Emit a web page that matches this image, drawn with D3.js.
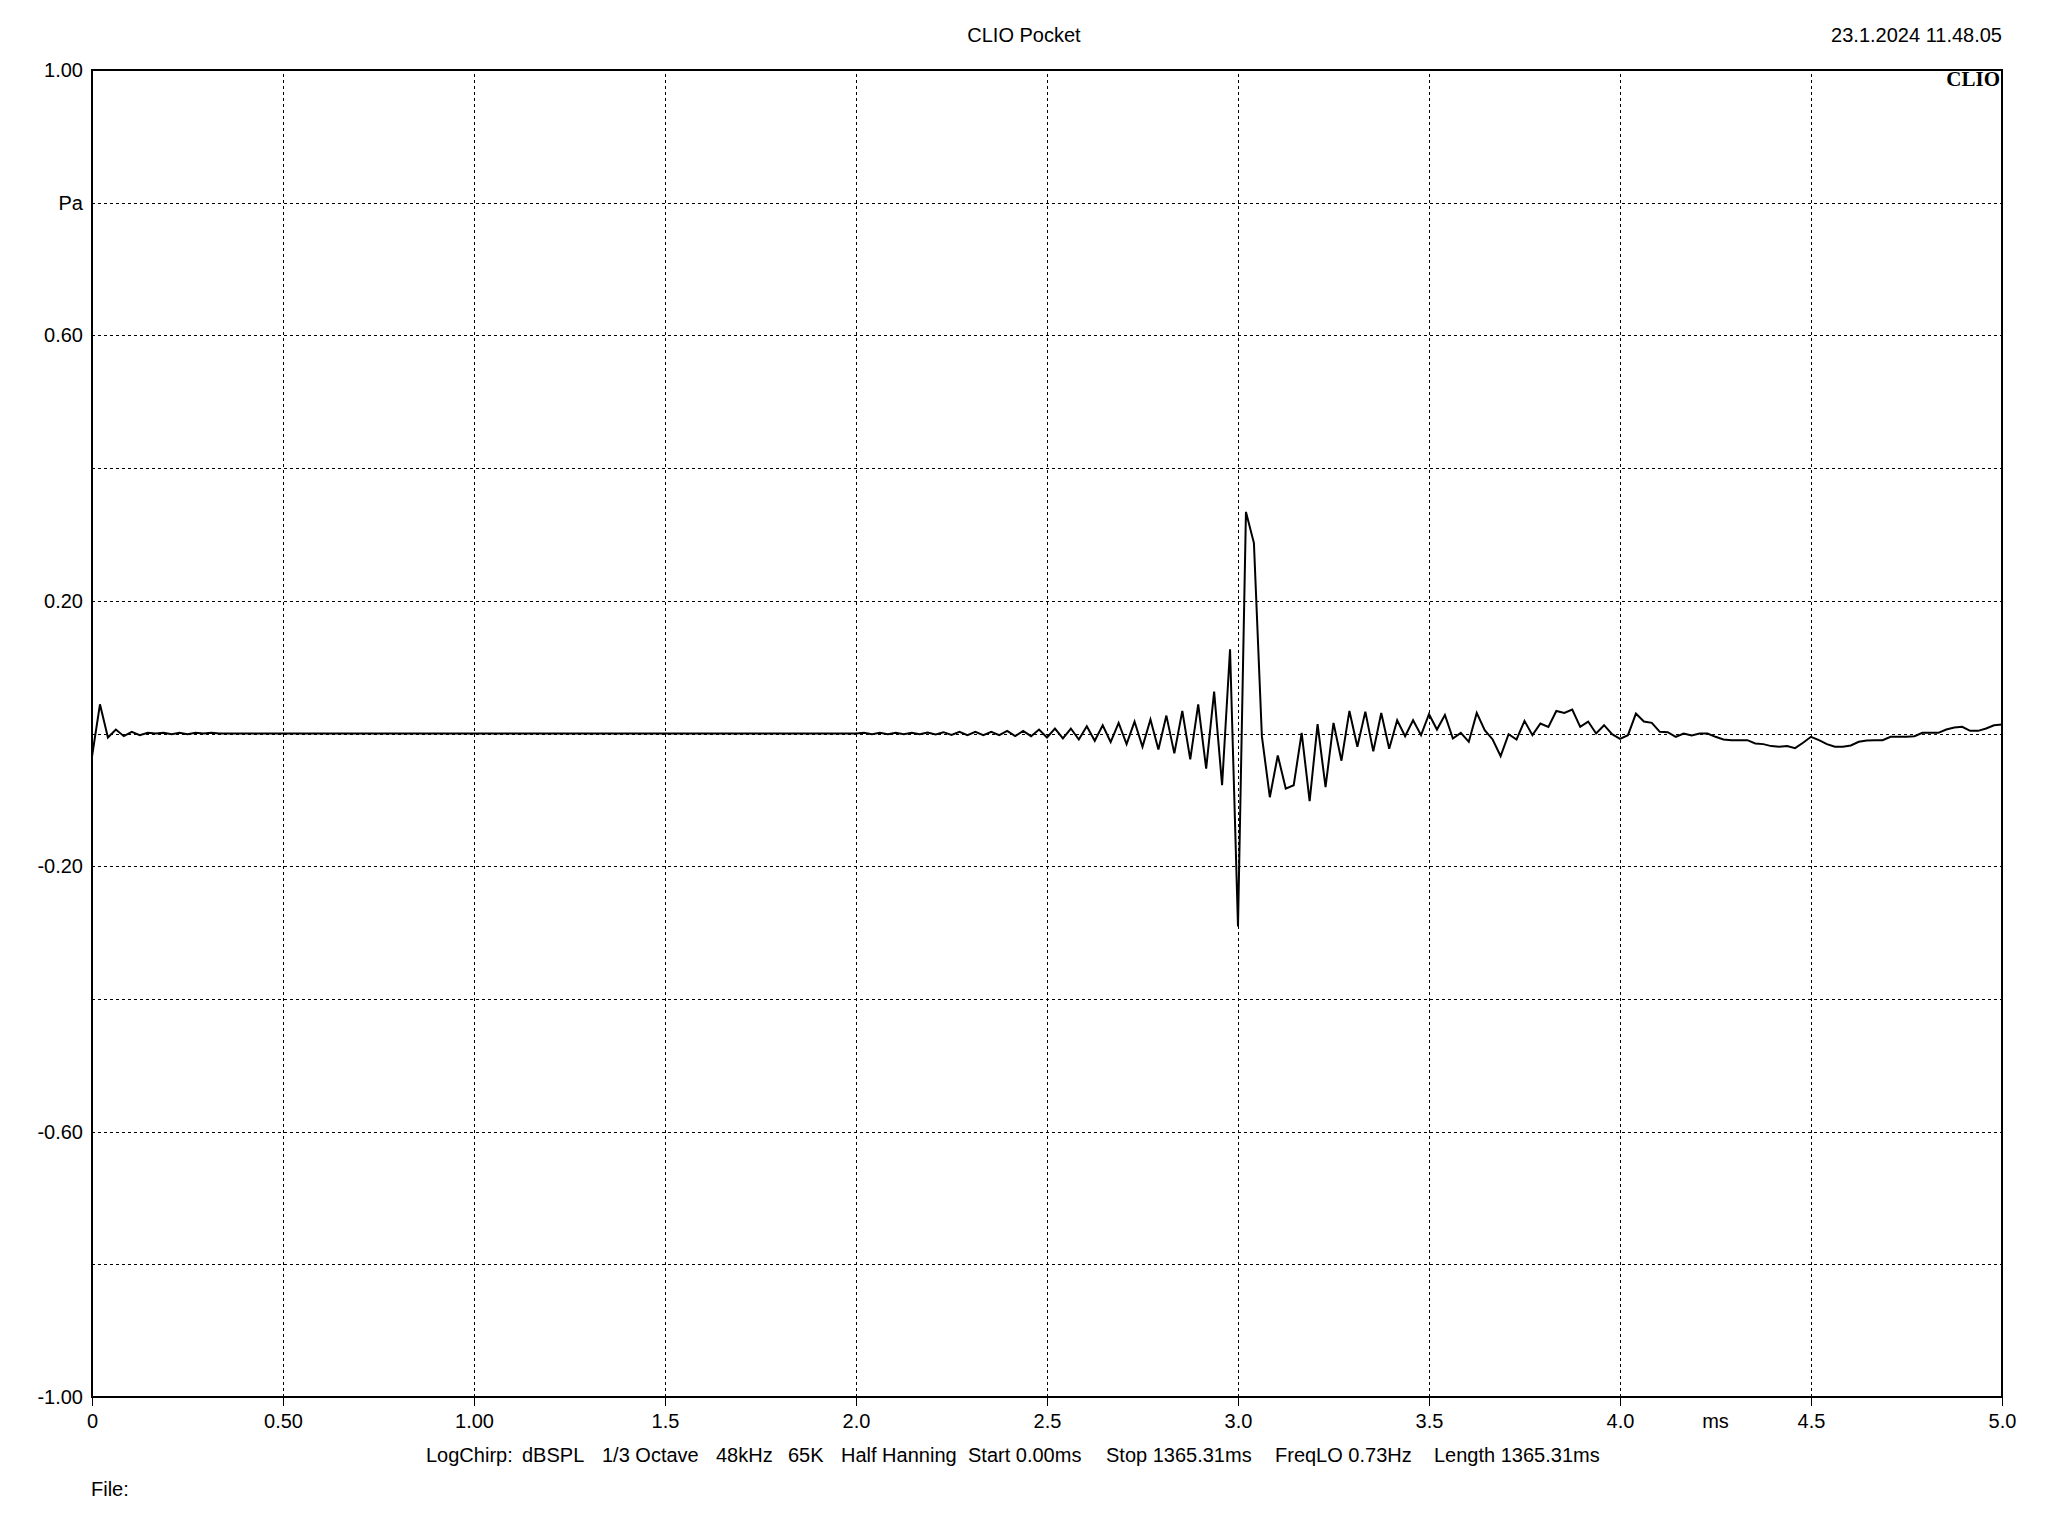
<!DOCTYPE html>
<html>
<head>
<meta charset="utf-8">
<script src="https://cdn.jsdelivr.net/npm/d3@7"></script>
<style>
  html, body { margin: 0; padding: 0; background: #fff; }
  svg { display: block; }
  text { font-family: "Liberation Sans", Arial, sans-serif; fill: #000; }
</style>
</head>
<body>
<svg id="chart" width="2048" height="1536"></svg>
<script>
// ---------------- data ----------------
const sampleRateKHz = 48;           // samples per ms
const pressure = [                  // Pa, one value per sample (0 .. 5 ms)
  -0.035, 0.044, -0.006, 0.006, -0.004, 0.0025, -0.0025, 0.001, 0, 0.001,
  -0.001, 0.001, -0.001, 0.001, 0, 0.001, 0, 0, 0, 0,
  0, 0, 0, 0, 0, 0, 0, 0, 0, 0,
  0, 0, 0, 0, 0, 0, 0, 0, 0, 0,
  0, 0, 0, 0, 0, 0, 0, 0, 0, 0,
  0, 0, 0, 0, 0, 0, 0, 0, 0, 0,
  0, 0, 0, 0, 0, 0, 0, 0, 0, 0,
  0, 0, 0, 0, 0, 0, 0, 0, 0, 0,
  0, 0, 0, 0, 0, 0, 0, 0, 0, 0,
  0, 0, 0, 0, 0, 0, 0, 0.001, -0.001, 0.001,
  -0.001, 0.001, -0.001, 0.001, -0.001, 0.0015, -0.0015, 0.002, -0.002, 0.0025,
  -0.0025, 0.0025, -0.0025, 0.0025, -0.0025, 0.004, -0.004, 0.004, -0.004, 0.006,
  -0.006, 0.0075, -0.0075, 0.0075, -0.009, 0.011, -0.011, 0.0125, -0.013, 0.016,
  -0.016, 0.018, -0.020, 0.021, -0.024, 0.027, -0.030, 0.034, -0.039, 0.044,
  -0.053, 0.063, -0.078, 0.127, -0.291, 0.334, 0.287, -0.004, -0.096, -0.033,
  -0.083, -0.078, 0.001, -0.102, 0.014, -0.081, 0.016, -0.041, 0.034, -0.020,
  0.033, -0.027, 0.031, -0.023, 0.020, -0.004, 0.020, -0.0025, 0.029, 0.006,
  0.028, -0.0075, 0.001, -0.0125, 0.031, 0.005, -0.009, -0.034, -0.001, -0.009,
  0.019, -0.0025, 0.015, 0.010, 0.034, 0.031, 0.036, 0.010, 0.018, 0.0,
  0.0125, -0.001, -0.008, -0.0025, 0.030, 0.018, 0.016, 0.0025, 0.002, -0.005,
  0, -0.003, 0, 0, -0.005, -0.009, -0.010, -0.010, -0.010, -0.015,
  -0.016, -0.019, -0.020, -0.019, -0.022, -0.014, -0.005, -0.010, -0.016, -0.020,
  -0.020, -0.018, -0.0125, -0.0105, -0.010, -0.010, -0.005, -0.005, -0.005, -0.004,
  0.001, 0.001, 0.001, 0.006, 0.009, 0.010, 0.004, 0.004, 0.0075, 0.0125,
  0.0135
];

const xDomain = [0, 5];
const yDomain = [-1, 1];
const xTickValues = [0, 0.5, 1.0, 1.5, 2.0, 2.5, 3.0, 3.5, 4.0, 4.5, 5.0];
const xTickLabels = ["0", "0.50", "1.00", "1.5", "2.0", "2.5", "3.0", "3.5", "4.0", "4.5", "5.0"];
const xUnitLabel = "ms";
const xUnitPos = 4.25;
const yTickValues = [1.0, 0.8, 0.6, 0.2, -0.2, -0.6, -1.0];
const yTickLabels = ["1.00", "Pa", "0.60", "0.20", "-0.20", "-0.60", "-1.00"];
const xGridValues = [0.5, 1.0, 1.5, 2.0, 2.5, 3.0, 3.5, 4.0, 4.5];
const yGridValues = [0.8, 0.6, 0.4, 0.2, 0.0, -0.2, -0.4, -0.6, -0.8];

const titleText = "CLIO Pocket";
const dateText = "23.1.2024 11.48.05";
const logoText = "CLIO";
const captionParts = ["LogChirp:", "dBSPL", "1/3 Octave", "48kHz", "65K", "Half Hanning",
  "Start 0.00ms", "Stop 1365.31ms", "FreqLO 0.73Hz", "Length 1365.31ms"];
const fileText = "File:";

// ---------------- layout ----------------
const L = 92, R = 2002, T = 70, B = 1397;
const captionX = [426, 522, 602, 716, 788, 841, 968, 1106, 1275, 1434];
const FS = 20;

const svg = d3.select("#chart");
svg.append("rect").attr("width", 2048).attr("height", 1536).attr("fill", "#fff");

const x = d3.scaleLinear().domain(xDomain).range([L, R]);
const y = d3.scaleLinear().domain(yDomain).range([B, T]);

// grid
const gx = svg.append("g").attr("transform", `translate(0,${B})`)
  .call(d3.axisBottom(x).tickValues(xGridValues).tickSize(-(B - T)).tickFormat(""));
gx.select(".domain").remove();
gx.selectAll("line").attr("stroke", "#000").attr("stroke-width", 1)
  .attr("stroke-dasharray", "3,3").attr("shape-rendering", "crispEdges");

const gy = svg.append("g").attr("transform", `translate(${L},0)`)
  .call(d3.axisLeft(y).tickValues(yGridValues).tickSize(-(R - L)).tickFormat(""));
gy.select(".domain").remove();
gy.selectAll("line").attr("stroke", "#000").attr("stroke-width", 1)
  .attr("stroke-dasharray", "3,3").attr("shape-rendering", "crispEdges");

// x axis ticks + labels
const ax = svg.append("g").attr("transform", `translate(0,${B})`)
  .call(d3.axisBottom(x).tickValues(xTickValues).tickSize(9).tickPadding(8)
    .tickFormat((d, i) => xTickLabels[i]));
ax.select(".domain").remove();
ax.selectAll("line").attr("stroke", "#000").attr("stroke-width", 1).attr("shape-rendering", "crispEdges");
ax.selectAll("text").attr("font-size", FS).attr("font-family", "Liberation Sans, Arial, sans-serif").attr("fill", "#000");

svg.append("text").attr("x", x(xUnitPos)).attr("y", 1428).attr("text-anchor", "middle")
  .attr("font-size", FS).text(xUnitLabel);

// y axis labels
const ay = svg.append("g").attr("transform", `translate(${L},0)`)
  .call(d3.axisLeft(y).tickValues(yTickValues).tickSize(0).tickPadding(9)
    .tickFormat((d, i) => yTickLabels[i]));
ay.select(".domain").remove();
ay.selectAll("text").attr("font-size", FS).attr("font-family", "Liberation Sans, Arial, sans-serif").attr("fill", "#000");

// curve
const line = d3.line()
  .x((d, i) => x(i / sampleRateKHz))
  .y(d => y(d));
svg.append("path").datum(pressure)
  .attr("d", line)
  .attr("fill", "none").attr("stroke", "#000").attr("stroke-width", 2);

// frame
svg.append("rect").attr("x", L).attr("y", T).attr("width", R - L).attr("height", B - T)
  .attr("fill", "none").attr("stroke", "#000").attr("stroke-width", 2);

// texts
svg.append("text").attr("x", 1024).attr("y", 42).attr("text-anchor", "middle")
  .attr("font-size", FS).text(titleText);
svg.append("text").attr("x", R).attr("y", 42).attr("text-anchor", "end")
  .attr("font-size", FS).text(dateText);
svg.append("text").attr("x", R - 2).attr("y", 86).attr("text-anchor", "end")
  .attr("font-size", 21).attr("font-weight", "bold")
  .style("font-family", "'Liberation Serif', 'DejaVu Serif', serif").text(logoText);

const cap = svg.append("text").attr("y", 1462).attr("font-size", FS);
captionParts.forEach((p, i) => cap.append("tspan").attr("x", captionX[i]).text(p));

svg.append("text").attr("x", 91).attr("y", 1496).attr("font-size", FS).text(fileText);
</script>
</body>
</html>
